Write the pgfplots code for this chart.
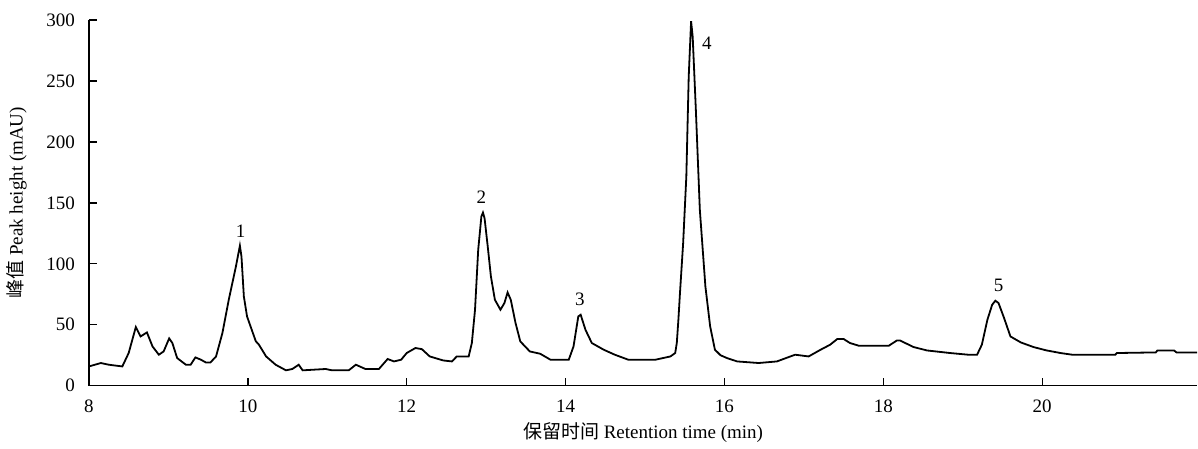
\documentclass[border=0pt]{standalone}
\usepackage{fontspec}
\setmainfont{Liberation Serif}
\newfontfamily\cjk{Noto Sans CJK SC}
\usepackage{pgfplots}
\pgfplotsset{compat=1.18}
\begin{document}
\begin{tikzpicture}
\begin{axis}[
    scale only axis,
    width=554.5pt, height=183pt,
    xmin=8, xmax=21.95,
    ymin=0, ymax=300,
    axis x line=bottom, axis y line=left,
    axis line style={-, line width=0.7pt},
    tick align=inside,
    major tick length=4pt,
    tick style={black, line width=0.7pt},
    xtick={8,10,...,20},
    ytick={0,50,...,300},
    font=\fontsize{9.5}{11}\selectfont,
    /pgf/number format/assume math mode=true,
    yticklabel style={xshift=-3.5pt},
    xticklabel style={yshift=-3.5pt},
    xlabel={{\cjk 保留时间} Retention time (min)},
    ylabel={{\cjk 峰值} Peak height (mAU)},
    ylabel style={yshift=3pt},
    xlabel style={yshift=2pt},
    clip=false
]
% chromatogram trace
\addplot[black, line width=0.9pt] table {
x y
8.00 15.8
8.15 18.6
8.25 17.2
8.42 15.8
8.50 26.8
8.59 48.1
8.65 40.4
8.73 43.7
8.80 32.2
8.88 25.4
8.94 28.1
9.01 38.8
9.05 35.0
9.11 22.7
9.22 17.2
9.28 17.2
9.34 23.2
9.41 21.3
9.47 19.1
9.53 19.1
9.60 24.0
9.68 43.2
9.76 70.5
9.85 97.8
9.90 114.8
9.92 106.0
9.95 73.2
9.99 56.8
10.10 36.5
10.14 33.6
10.23 24.0
10.35 17.2
10.48 12.6
10.56 13.7
10.64 17.2
10.69 12.6
10.98 13.7
11.06 12.6
11.27 12.6
11.36 17.2
11.48 13.7
11.65 13.7
11.76 21.9
11.84 19.9
11.93 21.3
12.00 26.8
12.11 30.9
12.19 30.0
12.29 24.0
12.46 20.7
12.57 19.9
12.63 24.0
12.78 24.0
12.82 35.0
12.86 62.3
12.90 111.5
12.94 138.8
12.96 142.0
12.98 137.4
13.02 114.2
13.06 89.6
13.11 70.5
13.18 62.3
13.23 67.8
13.27 76.5
13.31 70.5
13.37 51.4
13.43 36.3
13.55 28.1
13.68 26.2
13.81 21.3
14.04 21.3
14.10 32.2
14.16 56.8
14.19 58.2
14.25 45.9
14.33 35.0
14.48 29.5
14.62 25.4
14.79 21.3
15.13 21.3
15.32 24.0
15.38 26.8
15.40 35.0
15.42 54.0
15.44 76.0
15.48 117.0
15.52 171.6
15.55 253.5
15.58 299.0
15.60 286.3
15.64 226.2
15.69 144.3
15.76 81.4
15.82 48.6
15.88 29.5
15.95 25.0
16.03 22.7
16.16 19.9
16.43 18.6
16.66 19.9
16.83 24.0
16.89 25.4
17.06 24.0
17.21 29.5
17.33 33.6
17.42 38.3
17.50 38.3
17.58 35.0
17.69 32.8
18.07 32.8
18.17 37.1
18.21 37.1
18.38 31.7
18.55 28.9
18.84 26.8
19.07 25.4
19.18 25.4
19.24 33.6
19.31 54.1
19.37 66.4
19.41 69.7
19.45 67.8
19.52 55.5
19.60 40.4
19.73 35.5
19.89 31.7
20.05 29.0
20.23 26.8
20.38 25.4
20.92 25.4
20.94 26.8
21.43 27.3
21.45 28.9
21.66 28.9
21.69 27.3
21.95 27.3
};
% peak labels
\node[font=\fontsize{9.5}{11}\selectfont] at (axis cs:9.91,127) {1};
\node[font=\fontsize{9.5}{11}\selectfont] at (axis cs:12.94,155) {2};
\node[font=\fontsize{9.5}{11}\selectfont] at (axis cs:14.18,71) {3};
\node[font=\fontsize{9.5}{11}\selectfont] at (axis cs:15.78,281) {4};
\node[font=\fontsize{9.5}{11}\selectfont] at (axis cs:19.45,82) {5};
\end{axis}
\path (current axis.north) ++(0,10pt);
\path (current axis.south) ++(0,-31.5pt);
\end{tikzpicture}
\end{document}
